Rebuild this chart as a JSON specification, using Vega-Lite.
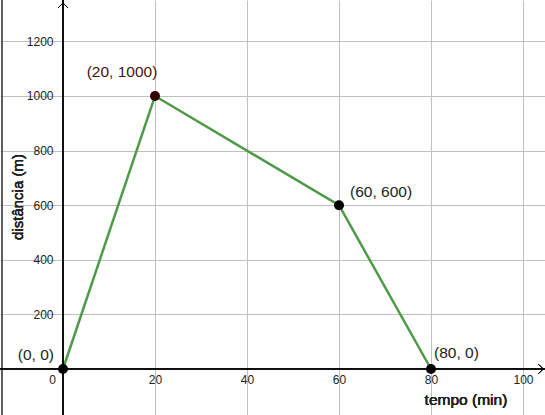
{
  "$schema": "https://vega.github.io/schema/vega-lite/v6.json",
  "width": 545,
  "height": 415,
  "autosize": {"type": "none"},
  "padding": 0,
  "background": "white",
  "config": {
    "view": {"stroke": null},
    "font": "Liberation Sans",
    "numberFormat": "d",
    "axis": {
      "domain": false, "ticks": false, "tickSize": 0,
      "grid": true, "gridColor": "#c0c0c0", "gridWidth": 1,
      "labelFontSize": 12, "labelColor": "#222222", "labelFont": "Liberation Sans"
    }
  },
  "data": {"values": [
    {"t": 0, "d": 0, "label": "(0, 0)"},
    {"t": 20, "d": 1000, "label": "(20, 1000)"},
    {"t": 60, "d": 600, "label": "(60, 600)"},
    {"t": 80, "d": 0, "label": "(80, 0)"}
  ]},
  "layer": [
    {
      "mark": {"type": "line", "color": "#4f9a48", "strokeWidth": 2.5},
      "encoding": {
        "x": {
          "field": "t", "type": "quantitative",
          "scale": {"domain": [-13.696, 104.783], "nice": false, "zero": false},
          "axis": {
            "orient": "bottom", "offset": -46, "values": [0, 20, 40, 60, 80, 100], "format": "d",
            "gridOpacity": {"condition": {"test": "datum.value == 0", "value": 0}, "value": 1},
            "labelOffset": {"condition": {"test": "datum.value == 0", "value": -11}, "value": 0},
            "labelPadding": 5,
            "title": null
          }
        },
        "y": {
          "field": "d", "type": "quantitative",
          "scale": {"domain": [-168.5, 1351.6], "nice": false, "zero": false},
          "axis": {
            "orient": "left", "offset": -63, "values": [200, 400, 600, 800, 1000, 1200], "format": "d",
            "labelPadding": 10,
            "title": null
          }
        }
      }
    },
    {
      "mark": {"type": "rule", "color": "#555555", "strokeWidth": 1},
      "encoding": {"x": {"datum": -13.26, "type": "quantitative"}}
    },
    {
      "mark": {"type": "rule", "color": "#000000", "strokeWidth": 1},
      "encoding": {"x": {"datum": 0, "type": "quantitative"}}
    },
    {
      "mark": {"type": "rule", "color": "#000000", "strokeWidth": 1},
      "encoding": {"y": {"datum": 0, "type": "quantitative"}}
    },
    {
      "mark": {"type": "point", "shape": "M-0.5,-1L0.5,0L-0.5,1", "filled": false, "stroke": "#000000", "strokeWidth": 1, "size": 81, "opacity": 1},
      "encoding": {
        "x": {"datum": 103.9, "type": "quantitative"},
        "y": {"datum": 0, "type": "quantitative"}
      }
    },
    {
      "mark": {"type": "point", "shape": "M-1,0.5L0,-0.5L1,0.5", "filled": false, "stroke": "#000000", "strokeWidth": 1, "size": 81, "opacity": 1},
      "encoding": {
        "x": {"datum": 0, "type": "quantitative"},
        "y": {"datum": 1332.4, "type": "quantitative"}
      }
    },
    {
      "mark": {"type": "text", "text": "tempo (min)", "align": "center", "baseline": "middle", "fontSize": 15.5, "fontWeight": "normal", "color": "#222222", "font": "Liberation Sans"},
      "encoding": {
        "x": {"datum": 87.6, "type": "quantitative"},
        "y": {"datum": -113.6, "type": "quantitative"}
      }
    },
    {
      "mark": {"type": "text", "text": "distância (m)", "angle": 270, "align": "center", "baseline": "middle", "fontSize": 15, "fontWeight": "normal", "color": "#222222", "font": "Liberation Sans"},
      "encoding": {
        "x": {"datum": -9.8, "type": "quantitative"},
        "y": {"datum": 630, "type": "quantitative"}
      }
    },
    {
      "mark": {"type": "circle", "size": 100, "opacity": 1},
      "encoding": {
        "x": {"field": "t", "type": "quantitative"},
        "y": {"field": "d", "type": "quantitative"},
        "color": {"condition": {"test": "datum.t == 20", "value": "#330000"}, "value": "#000000"}
      }
    },
    {
      "transform": [{"filter": "datum.t == 0"}],
      "mark": {"type": "text", "align": "right", "baseline": "middle", "dx": -9, "dy": -14, "fontSize": 15.5, "color": "#222222", "font": "Liberation Sans"},
      "encoding": {
        "x": {"field": "t", "type": "quantitative"},
        "y": {"field": "d", "type": "quantitative"},
        "text": {"field": "label"}
      }
    },
    {
      "transform": [{"filter": "datum.t == 20"}],
      "mark": {"type": "text", "align": "center", "baseline": "middle", "dx": -33, "dy": -24, "fontSize": 15.5, "color": "#4d1111", "font": "Liberation Sans"},
      "encoding": {
        "x": {"field": "t", "type": "quantitative"},
        "y": {"field": "d", "type": "quantitative"},
        "text": {"field": "label"}
      }
    },
    {
      "transform": [{"filter": "datum.t == 60"}],
      "mark": {"type": "text", "align": "left", "baseline": "middle", "dx": 11, "dy": -13, "fontSize": 15.5, "color": "#222222", "font": "Liberation Sans"},
      "encoding": {
        "x": {"field": "t", "type": "quantitative"},
        "y": {"field": "d", "type": "quantitative"},
        "text": {"field": "label"}
      }
    },
    {
      "transform": [{"filter": "datum.t == 80"}],
      "mark": {"type": "text", "align": "left", "baseline": "middle", "dx": 3, "dy": -16, "fontSize": 15.5, "color": "#222222", "font": "Liberation Sans"},
      "encoding": {
        "x": {"field": "t", "type": "quantitative"},
        "y": {"field": "d", "type": "quantitative"},
        "text": {"field": "label"}
      }
    }
  ]
}
